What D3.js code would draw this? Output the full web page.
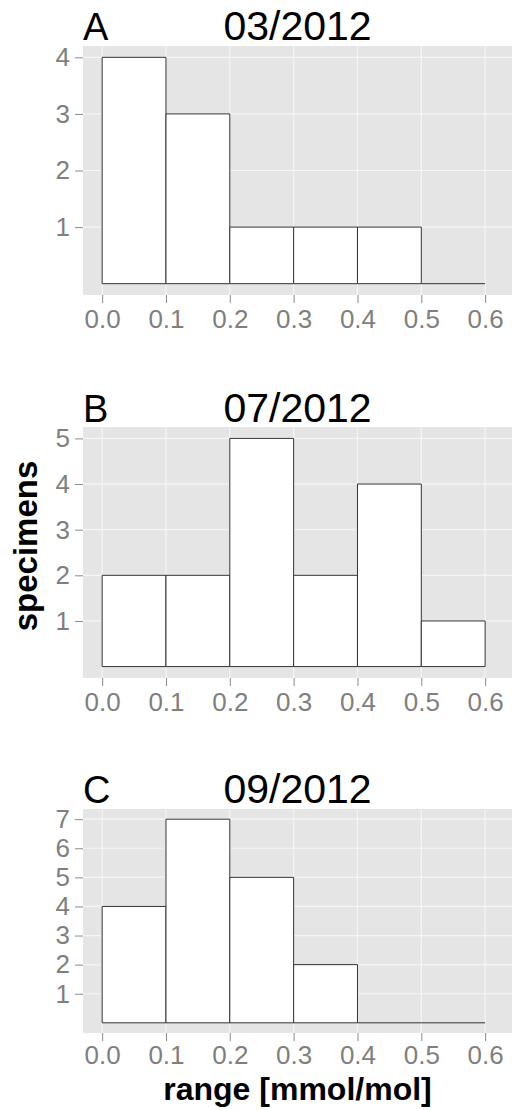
<!DOCTYPE html>
<html>
<head>
<meta charset="utf-8">
<script src="https://cdn.jsdelivr.net/npm/d3@7"></script>
<style>
  html, body { margin: 0; padding: 0; background: #fff; }
  svg { display: block; }
</style>
</head>
<body>
<svg id="chart" width="512" height="1110"></svg>
<script>
// ---- data ----
const binEdges = [0.0, 0.1, 0.2, 0.3, 0.4, 0.5, 0.6];
const xTickLabels = ["0.0", "0.1", "0.2", "0.3", "0.4", "0.5", "0.6"];
const panelLetters = ["A", "B", "C"];
const panelTitles = ["03/2012", "07/2012", "09/2012"];
const countsA = [4, 3, 1, 1, 1, 0];
const countsB = [2, 2, 5, 2, 4, 1];
const countsC = [4, 7, 5, 2, 0, 0];
const yTicksA = [1, 2, 3, 4];
const yTicksB = [1, 2, 3, 4, 5];
const yTicksC = [1, 2, 3, 4, 5, 6, 7];
const yAxisTitle = "specimens";
const xAxisTitle = "range [mmol/mol]";

// ---- layout ----
const layout = [
  { top: 46,  bottom: 295,  titleY: 40,  pad: 7, counts: countsA, ticks: yTicksA },
  { top: 427, bottom: 678,  titleY: 422, pad: 7, counts: countsB, ticks: yTicksB },
  { top: 809, bottom: 1033, titleY: 803, pad: 5, counts: countsC, ticks: yTicksC }
];
const panelLeft = 83, panelRight = 512;
const font = "'Liberation Sans', Arial, sans-serif";

const svg = d3.select("#chart");

const x = d3.scaleLinear().domain([-0.03, 0.63]).range([panelLeft, panelLeft + 0.66 * 638.3]);

layout.forEach((p, i) => {
  const maxC = d3.max(p.counts);
  const y = d3.scaleLinear().domain([-0.05 * maxC, 1.05 * maxC]).range([p.bottom, p.top]);
  const g = svg.append("g");

  // panel background
  g.append("rect")
    .attr("x", panelLeft).attr("y", p.top)
    .attr("width", panelRight - panelLeft).attr("height", p.bottom - p.top)
    .attr("fill", "#e5e5e5");

  // grid lines
  g.selectAll(".vg").data(binEdges).enter().append("line")
    .attr("x1", d => x(d)).attr("x2", d => x(d))
    .attr("y1", p.top).attr("y2", p.bottom)
    .attr("stroke", "#f5f5f5").attr("stroke-width", 1.2);
  g.selectAll(".hg").data(p.ticks).enter().append("line")
    .attr("x1", panelLeft).attr("x2", panelRight)
    .attr("y1", d => y(d)).attr("y2", d => y(d))
    .attr("stroke", "#f5f5f5").attr("stroke-width", 1.2);

  // bars (paths so that empty bins still show their baseline)
  const bins = p.counts.map((c, j) => ({ x0: binEdges[j], x1: binEdges[j + 1], c }));
  g.selectAll(".bar").data(bins).enter().append("path")
    .attr("d", d => {
      const X0 = x(d.x0), X1 = x(d.x1), Y0 = y(0), Y1 = y(d.c);
      return d.c > 0 ? `M${X0},${Y0}V${Y1}H${X1}V${Y0}Z` : `M${X0},${Y0}H${X1}`;
    })
    .attr("fill", "#fff").attr("stroke", "#333").attr("stroke-width", 1);

  // x axis
  const xAxis = d3.axisBottom(x).tickValues(binEdges).tickFormat((d, j) => xTickLabels[j])
    .tickSizeInner(8).tickSizeOuter(0).tickPadding(p.pad);
  const xa = g.append("g").attr("transform", `translate(0,${p.bottom})`).call(xAxis);
  xa.select(".domain").remove();
  xa.selectAll("line").attr("stroke", "#8a8a8a");
  xa.selectAll("text").attr("fill", "#7f7f7f").attr("font-size", 26).attr("font-family", font);

  // y axis
  const yAxis = d3.axisLeft(y).tickValues(p.ticks).tickFormat(d3.format("d"))
    .tickSizeInner(8).tickSizeOuter(0).tickPadding(5);
  const ya = g.append("g").attr("transform", `translate(${panelLeft},0)`).call(yAxis);
  ya.select(".domain").remove();
  ya.selectAll("line").attr("stroke", "#8a8a8a");
  ya.selectAll("text").attr("fill", "#7f7f7f").attr("font-size", 26).attr("font-family", font);

  // letter and title
  g.append("text").attr("x", panelLeft).attr("y", p.titleY)
    .attr("font-size", 38).attr("font-family", font).attr("fill", "#000")
    .text(panelLetters[i]);
  g.append("text").attr("x", (panelLeft + panelRight) / 2).attr("y", p.titleY)
    .attr("text-anchor", "middle")
    .attr("font-size", 41).attr("font-family", font).attr("fill", "#000")
    .text(panelTitles[i]);
});

// axis titles
svg.append("text")
  .attr("transform", "translate(37,546) rotate(-90)")
  .attr("text-anchor", "middle")
  .attr("font-size", 33).attr("font-weight", "bold").attr("font-family", font)
  .text(yAxisTitle);

svg.append("text")
  .attr("x", (panelLeft + panelRight) / 2).attr("y", 1100)
  .attr("text-anchor", "middle")
  .attr("font-size", 32).attr("font-weight", "bold").attr("font-family", font)
  .text(xAxisTitle);
</script>
</body>
</html>
